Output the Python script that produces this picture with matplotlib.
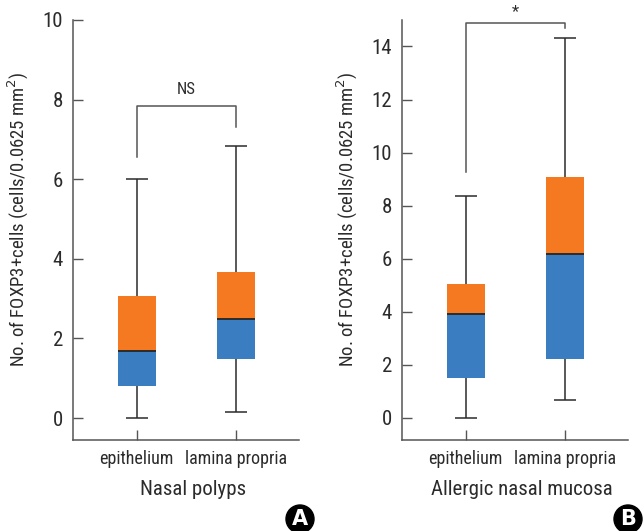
import matplotlib
matplotlib.use("Agg")
import matplotlib.pyplot as plt
from matplotlib.patches import Circle

plt.rcParams['font.family'] = ['Roboto Condensed', 'DejaVu Sans']

CATEGORIES = ["epithelium", "lamina propria"]

# panel A: nasal polyps
A_LOW = [0.0, 0.16]
A_Q1 = [0.81, 1.48]
A_MED = [1.68, 2.49]
A_Q3 = [3.07, 3.68]
A_HIGH = [6.0, 6.84]

# panel B: allergic nasal mucosa
B_LOW = [0.0, 0.68]
B_Q1 = [1.52, 2.22]
B_MED = [3.91, 6.17]
B_Q3 = [5.04, 9.08]
B_HIGH = [8.35, 14.33]

BLUE = "#3a7ec1"
ORANGE = "#f47920"
INK = "#2b2b2b"
SPINE = "#555555"

YLABEL = "No. of FOXP3+cells (cells/0.0625 mm$^2$)"


def draw_panel(ax, low, q1, med, q3, high, ylim, yticks, xlabel,
               bracket, sig, sig_y):
    xs = [1, 2]
    w = 0.385
    ax.bar(xs, [m - a for a, m in zip(q1, med)], bottom=q1, width=w,
           color=BLUE, zorder=2)
    ax.bar(xs, [b - m for m, b in zip(med, q3)], bottom=med, width=w,
           color=ORANGE, zorder=2)
    ax.hlines(med, [x - w / 2 for x in xs], [x + w / 2 for x in xs],
              color=INK, lw=1.4, zorder=3)
    ax.vlines(xs, low, q1, color=INK, lw=1.1, zorder=1)
    ax.vlines(xs, q3, high, color=INK, lw=1.1, zorder=1)
    cap = 0.11
    ax.hlines(low, [x - cap for x in xs], [x + cap for x in xs], color=INK, lw=1.1)
    ax.hlines(high, [x - cap for x in xs], [x + cap for x in xs], color=INK, lw=1.1)

    # significance bracket
    y_left, y_top, y_right = bracket
    ax.plot([1, 1, 2, 2], [y_left, y_top, y_top, y_right], color=SPINE,
            lw=1.1, clip_on=False)
    ax.text(1.5, sig_y, sig, ha="center", va="center", fontsize=12,
            color=INK, clip_on=False)

    ax.set_xlim(0.354, 2.64)
    ax.set_ylim(*ylim)
    ax.set_yticks(yticks)
    ax.set_xticks(xs)
    ax.set_xticklabels(CATEGORIES)
    ax.tick_params(axis="both", direction="in", length=7, width=1, colors=SPINE,
                   labelcolor=INK, labelsize=15, pad=7)
    ax.tick_params(axis="x", labelsize=13, pad=7)
    ax.spines["top"].set_visible(False)
    ax.spines["right"].set_visible(False)
    for s in ("left", "bottom"):
        ax.spines[s].set_color(SPINE)
        ax.spines[s].set_linewidth(1.1)
    ax.set_ylabel(YLABEL, fontsize=13.5, color=INK, va="center")
    ax.yaxis.set_label_coords(-0.24, 0.525)
    ax.set_xlabel(xlabel, fontsize=15, color=INK, va="center")
    ax.xaxis.set_label_coords(0.53, -0.119)


fig = plt.figure(figsize=(6.43, 5.31), dpi=100)
axA = fig.add_axes([0.1131, 0.1714, 0.352, 0.791])
axB = fig.add_axes([0.6247, 0.1714, 0.3524, 0.791])

draw_panel(axA, A_LOW, A_Q1, A_MED, A_Q3, A_HIGH, (-0.55, 10.0),
           [0, 2, 4, 6, 8, 10], "Nasal polyps", (6.55, 7.84, 7.3), "NS", 8.25)
draw_panel(axB, B_LOW, B_Q1, B_MED, B_Q3, B_HIGH, (-0.83, 15.0),
           [0, 2, 4, 6, 8, 10, 12, 14], "Allergic nasal mucosa",
           (9.26, 14.9, 14.7), "*", 15.3)

for cx, letter in ((300, "A"), (628, "B")):
    fx, fy = cx / 643, 1 - 519 / 531
    fig.patches.append(Circle((cx, 531 - 519), 14, transform=None,
                              color="black", zorder=10))
    fig.text(fx, fy, letter, ha="center", va="center", color="white",
             fontsize=15, fontweight="bold", family="DejaVu Sans", zorder=11)

fig.savefig("out.png", dpi=100)
